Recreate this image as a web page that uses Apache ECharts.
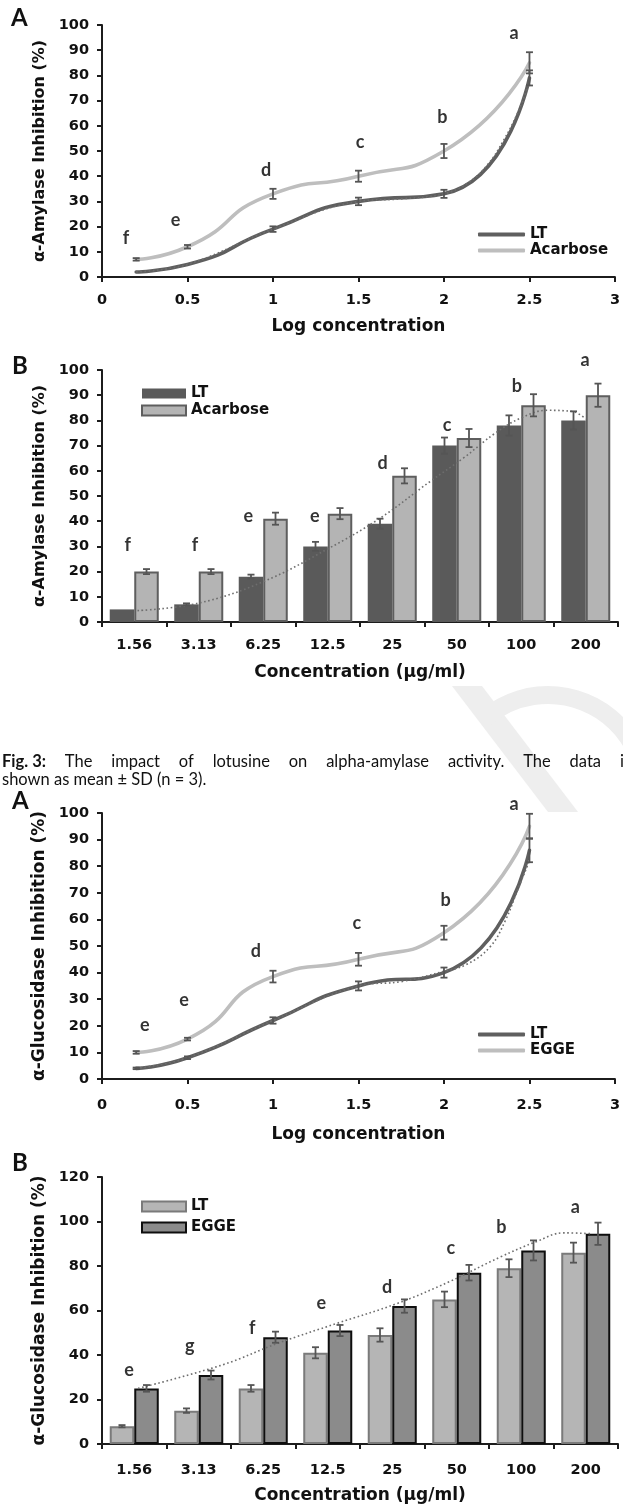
<!DOCTYPE html>
<html lang="en">
<head>
<meta charset="UTF-8">
<title>Fig. 3 lotusine</title>
<script src="https://cdn.jsdelivr.net/npm/echarts@6/dist/echarts.min.js"></script>
<style>
  html, body { margin: 0; padding: 0; background: #fff; }
  #chart { width: 623px; height: 1505px; }
</style>
</head>
<body>
<div id="chart"></div>
<script>
// ---------- panel 1 : alpha-amylase vs log concentration ----------
var logX = [0.2, 0.5, 1, 1.5, 2, 2.5];
var amyLT = [2, 5, 19, 30, 33, 79];
var amyLTsd = [0, 0, 1.1, 1.5, 1.6, 3];
var amyAca = [7, 12, 33, 40, 50, 85];
var amyAcaSd = [0.5, 0.7, 2, 2.2, 2.8, 4.2];
var amyTrendX = [0.2, 0.5, 1, 1.5, 1.75, 2, 2.15, 2.26, 2.35, 2.43, 2.5];
var amyTrendY = [2, 5, 19, 30, 31, 33, 37.8, 45, 54.4, 65, 77];
var amyLetters = ['f', 'e', 'd', 'c', 'b', 'a'];
var amyLetterX = [0.14, 0.43, 0.96, 1.51, 1.99, 2.41];
var amyLetterY = [15.5, 22.6, 42.5, 53.6, 63.5, 96.8];

// ---------- panel 2 : alpha-amylase bars ----------
var concLabels = ['1.56', '3.13', '6.25', '12.5', '25', '50', '100', '200'];
var amyBarLT = [5, 7, 18, 30, 39, 70, 78, 80];
var amyBarLTsd = [0, 0.4, 0.8, 1.8, 2, 3.2, 4, 3.6];
var amyBarAca = [20, 20, 41, 43, 58, 73, 86, 90];
var amyBarAcaSd = [1, 1, 2.4, 2.2, 3, 3.6, 4.4, 4.6];
var amyBarTrendX = [0.55, 1.5, 2.5, 3.5, 4.3, 5.1, 5.6, 6.1, 6.5, 6.9, 7.3, 7.5];
var amyBarTrendY = [4.5, 7.5, 16, 29, 41, 56, 65, 75, 81, 84, 83.5, 80.5];
var amyBarLetters = ['f', 'f', 'e', 'e', 'd', 'c', 'b', 'a'];
var amyBarLetterX = [0.40, 1.44, 2.27, 3.30, 4.35, 5.35, 6.43, 7.49];
var amyBarLetterY = [30.6, 30.6, 41.8, 41.8, 63.2, 78.2, 93.4, 104];

// ---------- panel 3 : alpha-glucosidase vs log concentration ----------
var gluLT = [4, 8, 22, 35, 40, 86];
var gluLTsd = [0.3, 0.5, 1.2, 1.7, 1.9, 4.5];
var gluEgge = [10, 15, 38.5, 45, 55, 95];
var gluEggeSd = [0.5, 0.5, 2.2, 2.4, 2.6, 4.7];
var gluTrendX = [0.2, 0.5, 1, 1.5, 1.75, 2, 2.13, 2.27, 2.36, 2.43, 2.5];
var gluTrendY = [4, 8, 22, 35, 36.6, 40.5, 43, 49.7, 59.7, 71, 82];
var gluLetters = ['e', 'e', 'd', 'c', 'b', 'a'];
var gluLetterX = [0.25, 0.48, 0.90, 1.49, 2.01, 2.41];
var gluLetterY = [20.4, 29.7, 48.2, 58.5, 67.2, 103.5];

// ---------- panel 4 : alpha-glucosidase bars ----------
var gluBarLT = [8, 15, 25, 41, 49, 65, 79, 86];
var gluBarLTsd = [0.5, 1, 1.5, 2.5, 3, 3.5, 4, 4.5];
var gluBarEgge = [25, 31, 48, 51, 62, 77, 87, 94.5];
var gluBarEggeSd = [1.5, 2, 2.5, 2.5, 3, 3.5, 4.5, 5];
var gluBarTrendX = [0.56, 1.87, 2.73, 3.65, 4.58, 5.38, 6.18, 6.73, 7.16, 7.6];
var gluBarTrendY = [25, 35.6, 45.3, 54.3, 63.2, 72.9, 84.1, 90.9, 94.9, 94.5];
var gluBarLetters = ['e', 'g', 'f', 'e', 'd', 'c', 'b', 'a'];
var gluBarLetterX = [0.42, 1.36, 2.33, 3.40, 4.42, 5.41, 6.19, 7.34];
var gluBarLetterY = [33, 43.8, 52, 63.2, 70.4, 87.9, 97.6, 106.3];

// caption (first line is justified and runs off the right edge, as in the scan)
var capLine1 = ['Fig. 3:', 'The', 'impact', 'of', 'lotusine', 'on', 'alpha-amylase', 'activity.', 'The', 'data', 'is'];
var capLine2 = 'shown as mean ± SD (n = 3).';

var FONT = 'DejaVu Sans';
var AX = '#1c1c1c';
var ERR = '#555555';

var chart = echarts.init(document.getElementById('chart'));

function pairs(xs, ys) {
    return xs.map(function (x, i) { return [x, ys[i]]; });
}
function triples(xs, ys, es) {
    return xs.map(function (x, i) { return [x, ys[i], es[i]]; });
}

function yAxis(grid, max, interval, name, nameSize) {
    return {
        type: 'value', gridIndex: grid, min: 0, max: max, interval: interval,
        name: name, nameLocation: 'middle', nameGap: 53,
        nameTextStyle: { fontFamily: FONT, fontWeight: 'bold', fontSize: nameSize, color: '#111' },
        axisLine: { show: true, lineStyle: { color: AX, width: 2 } },
        axisTick: { show: true, length: 5, lineStyle: { color: AX, width: 2 } },
        axisLabel: { margin: 13, fontFamily: FONT, fontWeight: 'bold', fontSize: 14.5, color: '#111' },
        splitLine: { show: false }
    };
}
function xValueAxis(grid, nameGap, labelMargin) {
    return {
        type: 'value', gridIndex: grid, min: 0, max: 3, interval: 0.5,
        name: 'Log concentration', nameLocation: 'middle', nameGap: nameGap,
        nameTextStyle: { fontFamily: FONT, fontWeight: 'bold', fontSize: 17, color: '#111' },
        axisLine: { show: true, lineStyle: { color: AX, width: 2 } },
        axisTick: { show: true, length: 5, lineStyle: { color: AX, width: 2 } },
        axisLabel: { margin: labelMargin, fontFamily: FONT, fontWeight: 'bold', fontSize: 14.5, color: '#111' },
        splitLine: { show: false }
    };
}
function xCatAxis(grid, nameGap, labelMargin) {
    return {
        type: 'category', gridIndex: grid, data: concLabels,
        name: 'Concentration (µg/ml)', nameLocation: 'middle', nameGap: nameGap,
        nameTextStyle: { fontFamily: FONT, fontWeight: 'bold', fontSize: 17, color: '#111' },
        axisLine: { show: true, lineStyle: { color: AX, width: 2 } },
        axisTick: { show: true, length: 5, lineStyle: { color: AX, width: 2 } },
        axisLabel: { interval: 0, margin: labelMargin, fontFamily: FONT, fontWeight: 'bold', fontSize: 14.5, color: '#111' },
        splitLine: { show: false }
    };
}
function hiddenAxis(grid) {
    return { type: 'value', gridIndex: grid, min: 0, max: 8, show: false };
}

// error bars; shift = fraction of the category band to move sideways (bars)
function errorSeries(xi, yi, data, shift) {
    return {
        type: 'custom', xAxisIndex: xi, yAxisIndex: yi, z: 6, silent: true,
        data: data,
        renderItem: function (params, api) {
            var e = api.value(2);
            if (!e) return { type: 'group', children: [] };
            var x = api.value(0), y = api.value(1);
            var hi = api.coord([x, y + e]);
            var lo = api.coord([x, y - e]);
            var dx = shift ? api.size([1, 0])[0] * shift : 0;
            var cx = hi[0] + dx, w = 3.5;
            var st = { stroke: ERR, lineWidth: 1.8 };
            return {
                type: 'group',
                children: [
                    { type: 'line', shape: { x1: cx, y1: hi[1], x2: cx, y2: lo[1] }, style: st },
                    { type: 'line', shape: { x1: cx - w, y1: hi[1], x2: cx + w, y2: hi[1] }, style: st },
                    { type: 'line', shape: { x1: cx - w, y1: lo[1], x2: cx + w, y2: lo[1] }, style: st }
                ]
            };
        }
    };
}
function letterSeries(xi, yi, xs, ys, txt) {
    return {
        type: 'scatter', xAxisIndex: xi, yAxisIndex: yi, z: 7, silent: true, clip: false,
        symbolSize: 1, itemStyle: { color: 'rgba(0,0,0,0)' },
        data: txt.map(function (t, i) { return { name: t, value: [xs[i], ys[i]] }; }),
        label: { show: true, position: 'inside', formatter: '{b}',
                 fontFamily: 'Lato', fontWeight: 'bold', fontSize: 18, color: '#000' }
    };
}
function trendSeries(xi, yi, xs, ys) {
    return {
        type: 'line', xAxisIndex: xi, yAxisIndex: yi, z: 5, silent: true,
        data: pairs(xs, ys), smooth: 0.4, symbol: 'none',
        lineStyle: { color: '#6e6e6e', width: 1.6, type: [1.6, 2.6] }
    };
}
function curveSeries(name, xi, yi, ys, color) {
    return {
        name: name, type: 'line', xAxisIndex: xi, yAxisIndex: yi, z: 4,
        data: pairs(logX, ys), smooth: 0.6, symbol: 'none', color: color,
        lineStyle: { color: color, width: 3.6, cap: 'round' }
    };
}
var legendText = { fontFamily: FONT, fontWeight: 'bold', fontSize: 15, color: '#111' };
function nameOnly(n) { return n.split('|')[1]; }

// lay out the justified caption line word by word
var capFont = 16.5;
var measure = document.createElement('canvas').getContext('2d');
var capWidths = capLine1.map(function (w, i) {
    measure.font = (i === 0 ? 'bold ' : '') + capFont + 'px Lato';
    return measure.measureText(w).width;
});
var capTotal = capWidths.reduce(function (a, b) { return a + b; }, 0);
var capGap = (631 - 2 - capTotal) / (capLine1.length - 1);
var captionItems = [];
var cx = 2;
capLine1.forEach(function (w, i) {
    captionItems.push({
        type: 'text', x: cx, y: 753, z: 10, silent: true,
        style: { text: w, fontFamily: 'Lato', fontSize: capFont,
                 fontWeight: i === 0 ? 'bold' : 'normal', fill: '#111' }
    });
    cx += capWidths[i] + capGap;
});
captionItems.push({
    type: 'text', x: 2, y: 771, z: 10, silent: true,
    style: { text: capLine2, fontFamily: 'Lato', fontSize: capFont, fill: '#111' }
});

// faint watermark from the journal page
var watermark = [
    { type: 'polygon', z: -10, silent: true,
      shape: { points: [[452, 686], [482, 686], [578, 812], [548, 812]] },
      style: { fill: '#eeeeee' } },
    { type: 'sector', z: -10, silent: true,
      shape: { cx: 548, cy: 792, r0: 88, r: 106, startAngle: -Math.PI * 0.72, endAngle: Math.PI * 0.12 },
      style: { fill: '#eeeeee' } }
];

var option = {
    animation: false,
    backgroundColor: '#ffffff',
    grid: [
        { left: 102, top: 25, width: 516, height: 252 },
        { left: 102, top: 370, width: 516, height: 252 },
        { left: 102, top: 813, width: 516, height: 266 },
        { left: 102, top: 1177, width: 516, height: 267 }
    ],
    xAxis: [
        xValueAxis(0, 41, 16),
        xCatAxis(1, 42, 16),
        hiddenAxis(1),
        xValueAxis(2, 47, 19),
        xCatAxis(3, 43, 19),
        hiddenAxis(3)
    ],
    yAxis: [
        yAxis(0, 100, 10, 'α-Amylase Inhibition (%)', 16),
        yAxis(1, 100, 10, 'α-Amylase Inhibition (%)', 16),
        yAxis(2, 100, 10, 'α-Glucosidase Inhibition (%)', 17),
        yAxis(3, 120, 20, 'α-Glucosidase Inhibition (%)', 17)
    ],
    legend: [
        { data: ['a|LT', 'a|Acarbose'], orient: 'vertical', left: 473, top: 222,
          icon: 'roundRect', itemWidth: 47, itemHeight: 4, itemGap: 1,
          formatter: nameOnly, textStyle: legendText },
        { data: ['b|LT', 'b|Acarbose'], orient: 'vertical', left: 136, top: 381,
          icon: 'rect', itemWidth: 44, itemHeight: 10, itemGap: 2,
          formatter: nameOnly, textStyle: legendText },
        { data: ['c|LT', 'c|EGGE'], orient: 'vertical', left: 473, top: 1022,
          icon: 'roundRect', itemWidth: 47, itemHeight: 4, itemGap: 1,
          formatter: nameOnly, textStyle: legendText },
        { data: ['d|LT', 'd|EGGE'], orient: 'vertical', left: 136, top: 1194,
          icon: 'rect', itemWidth: 44, itemHeight: 10, itemGap: 6,
          formatter: nameOnly, textStyle: legendText }
    ],
    series: [
        // panel 1
        trendSeries(0, 0, amyTrendX, amyTrendY),
        curveSeries('a|LT', 0, 0, amyLT, '#5f5f5f'),
        curveSeries('a|Acarbose', 0, 0, amyAca, '#bebebe'),
        errorSeries(0, 0, triples(logX, amyLT, amyLTsd), 0),
        errorSeries(0, 0, triples(logX, amyAca, amyAcaSd), 0),
        letterSeries(0, 0, amyLetterX, amyLetterY, amyLetters),

        // panel 2
        { name: 'b|LT', type: 'bar', xAxisIndex: 1, yAxisIndex: 1, data: amyBarLT,
          barGap: '0%', barCategoryGap: '24%', itemStyle: { color: '#5a5a5a' } },
        { name: 'b|Acarbose', type: 'bar', xAxisIndex: 1, yAxisIndex: 1, data: amyBarAca,
          barGap: '0%', barCategoryGap: '24%',
          itemStyle: { color: '#b4b4b4', borderColor: '#5e5e5e', borderWidth: 2 } },
        trendSeries(2, 1, amyBarTrendX, amyBarTrendY),
        errorSeries(1, 1, triples([0, 1, 2, 3, 4, 5, 6, 7], amyBarLT, amyBarLTsd), -0.19),
        errorSeries(1, 1, triples([0, 1, 2, 3, 4, 5, 6, 7], amyBarAca, amyBarAcaSd), 0.19),
        letterSeries(2, 1, amyBarLetterX, amyBarLetterY, amyBarLetters),

        // panel 3
        trendSeries(3, 2, gluTrendX, gluTrendY),
        curveSeries('c|LT', 3, 2, gluLT, '#5f5f5f'),
        curveSeries('c|EGGE', 3, 2, gluEgge, '#bebebe'),
        errorSeries(3, 2, triples(logX, gluLT, gluLTsd), 0),
        errorSeries(3, 2, triples(logX, gluEgge, gluEggeSd), 0),
        letterSeries(3, 2, gluLetterX, gluLetterY, gluLetters),

        // panel 4
        { name: 'd|LT', type: 'bar', xAxisIndex: 4, yAxisIndex: 3, data: gluBarLT,
          barGap: '0%', barCategoryGap: '24%',
          itemStyle: { color: '#b5b5b5', borderColor: '#7a7a7a', borderWidth: 2 } },
        { name: 'd|EGGE', type: 'bar', xAxisIndex: 4, yAxisIndex: 3, data: gluBarEgge,
          barGap: '0%', barCategoryGap: '24%',
          itemStyle: { color: '#8b8b8b', borderColor: '#0e0e0e', borderWidth: 2 } },
        trendSeries(5, 3, gluBarTrendX, gluBarTrendY),
        errorSeries(4, 3, triples([0, 1, 2, 3, 4, 5, 6, 7], gluBarLT, gluBarLTsd), -0.19),
        errorSeries(4, 3, triples([0, 1, 2, 3, 4, 5, 6, 7], gluBarEgge, gluBarEggeSd), 0.19),
        letterSeries(5, 3, gluBarLetterX, gluBarLetterY, gluBarLetters)
    ],
    graphic: [
        { type: 'text', left: 11, top: 6, style: { text: 'A', font: 'bold 24px Lato', fill: '#111' } },
        { type: 'text', left: 12, top: 354, style: { text: 'B', font: 'bold 24px Lato', fill: '#111' } },
        { type: 'text', left: 12, top: 789, style: { text: 'A', font: 'bold 24px Lato', fill: '#111' } },
        { type: 'text', left: 12, top: 1151, style: { text: 'B', font: 'bold 24px Lato', fill: '#111' } }
    ].concat(watermark, captionItems)
};
chart.setOption(option);
</script>
</body>
</html>
